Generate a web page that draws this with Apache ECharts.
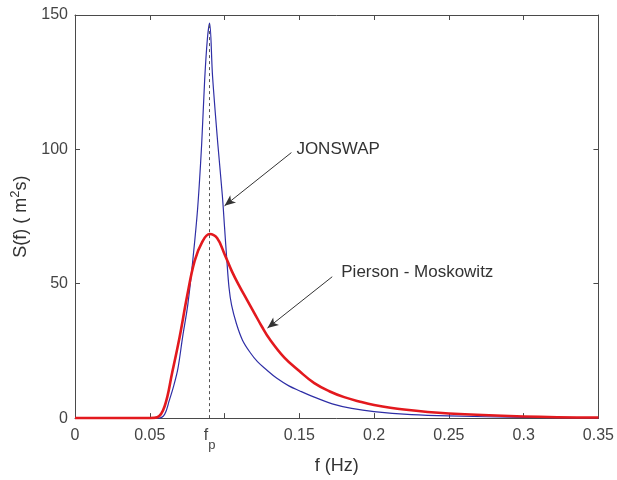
<!DOCTYPE html>
<html><head><meta charset="utf-8">
<script src="https://cdn.jsdelivr.net/npm/echarts@6/dist/echarts.min.js"></script>
<style>html,body{margin:0;padding:0;background:#fff}#c{width:617px;height:480px}</style>
</head><body><div id="c"></div>
<script>
// JONSWAP spectrum
const jonswapF = [0, 0.04, 0.05, 0.056, 0.06, 0.063, 0.066, 0.0688, 0.072, 0.0755, 0.079, 0.082, 0.0847, 0.0867, 0.0885, 0.09, 0.092, 0.0955, 0.0985, 0.1, 0.1015, 0.103, 0.1047, 0.108, 0.112, 0.117, 0.122, 0.128, 0.135, 0.143, 0.15, 0.16, 0.172, 0.185, 0.2, 0.225, 0.25, 0.3, 0.35];
const jonswapS = [0, 0, 0, 0, 1.5, 6.5, 12, 18.4, 30.3, 42.5, 60, 78, 102, 125.8, 141, 147, 127, 102, 83, 71, 59, 48.5, 42, 35, 29, 24.5, 21, 18, 14.8, 12, 10.2, 7.8, 5.3, 3.6, 2.4, 1.3, 0.8, 0.3, 0.1];
// Pierson - Moskowitz spectrum
const pmF = [0, 0.04, 0.05, 0.055, 0.06, 0.065, 0.07, 0.075, 0.08, 0.085, 0.09, 0.095, 0.1, 0.105, 0.11, 0.115, 0.12, 0.125, 0.13, 0.14, 0.15, 0.16, 0.17, 0.18, 0.19, 0.2, 0.22, 0.25, 0.3, 0.35];
const pmS = [0, 0, 0, 0.3, 4.5, 17, 30.3, 45.5, 58.5, 65.5, 68.5, 67, 61, 54.5, 49, 44, 39, 34, 29.5, 22.5, 17.5, 13, 10, 7.8, 6.2, 4.9, 3.2, 1.7, 0.6, 0.2];
// axis ticks and labels
const xTicks = [0, 0.05, 0.1, 0.15, 0.2, 0.25, 0.3, 0.35];
const xLabelValues = [0, 0.05, 0.09, 0.15, 0.2, 0.25, 0.3, 0.35];
const peakF = 0.09;
const peakS = 147;
const seriesNames = ['JONSWAP', 'Pierson - Moskowitz'];

const pair = (xs, ys) => xs.map((x, i) => [x, ys[i]]);
const chart = echarts.init(document.getElementById('c'), null, {renderer: 'canvas'});
const font = 'Liberation Sans, Arial, sans-serif';
const axisCol = '#4a4a4a';
const labelCol = '#444';
const baseX = {
  type: 'value', min: 0, max: 0.35, interval: 0.05,
  axisLine: {show: true, onZero: false, lineStyle: {color: axisCol, width: 1}},
  axisTick: {show: true, inside: true, length: 5, customValues: xTicks, lineStyle: {color: axisCol}},
  splitLine: {show: false}
};
const baseY = {
  type: 'value', min: 0, max: 150, interval: 50,
  axisLine: {show: true, onZero: false, lineStyle: {color: axisCol, width: 1}},
  axisTick: {show: true, inside: true, length: 5, lineStyle: {color: axisCol}},
  splitLine: {show: false}
};
chart.setOption({
  animation: false,
  backgroundColor: '#fff',
  grid: {left: 75, right: 17, top: 15, bottom: 49, containLabel: false},
  xAxis: [
    Object.assign({}, baseX, {
      position: 'bottom',
      name: 'f (Hz)', nameLocation: 'middle', nameGap: 33,
      nameTextStyle: {fontFamily: font, fontSize: 18, color: '#333'},
      axisLabel: {
        show: true, margin: 9, customValues: xLabelValues,
        fontFamily: font, fontSize: 16, color: labelCol,
        formatter: v => Math.abs(v - peakF) < 1e-9 ? '{f|f}{p|p}' : String(v),
        rich: {
          f: {fontFamily: font, fontSize: 16, color: labelCol, verticalAlign: 'top'},
          p: {fontFamily: font, fontSize: 13, color: labelCol, verticalAlign: 'bottom', padding: [12, 0, 0, 0]}
        }
      }
    }),
    Object.assign({}, baseX, {position: 'top', axisLabel: {show: false}})
  ],
  yAxis: [
    Object.assign({}, baseY, {
      position: 'left',
      name: '{t|S(f) ( m}{s|2}{t|s)}', nameLocation: 'middle', nameGap: 31,
      nameTextStyle: {
        fontFamily: font, fontSize: 18, color: '#333',
        rich: {
          t: {fontFamily: font, fontSize: 18, color: '#333', verticalAlign: 'bottom'},
          s: {fontFamily: font, fontSize: 13, color: '#333', verticalAlign: 'top', padding: [0, 0, 8, 0]}
        }
      },
      axisLabel: {show: true, margin: 7, fontFamily: font, fontSize: 16, color: labelCol}
    }),
    Object.assign({}, baseY, {position: 'right', axisLabel: {show: false}})
  ],
  series: [
    {
      name: seriesNames[0], type: 'line', data: pair(jonswapF, jonswapS),
      showSymbol: false, symbol: 'none', smooth: 0.35,
      lineStyle: {color: '#2e2ea6', width: 1.2},
      z: 2,
      markLine: {
        silent: true, animation: false,
        label: {show: false},
        data: [
          [{coord: [peakF, 0], symbol: 'none', lineStyle: {type: [3, 3], color: '#555', width: 1}},
           {coord: [peakF, peakS], symbol: 'none'}],
          [{coord: [0.1447, 98.8], symbol: 'none', lineStyle: {type: 'solid', color: '#333', width: 1}},
           {coord: [0.1, 79], symbol: 'arrow', symbolSize: [7, 11]}],
          [{coord: [0.172, 52.6], symbol: 'none', lineStyle: {type: 'solid', color: '#333', width: 1}},
           {coord: [0.1287, 33.5], symbol: 'arrow', symbolSize: [7, 11]}]
        ]
      },
      markPoint: {
        silent: true, animation: false,
        symbol: 'circle', symbolSize: 0,
        label: {show: true, position: 'right', distance: 5, fontFamily: font, fontSize: 17, color: '#333'},
        data: [
          {coord: [0.1447, 100.2], label: {formatter: seriesNames[0]}},
          {coord: [0.1747, 54.4], label: {formatter: seriesNames[1]}}
        ]
      }
    },
    {
      name: seriesNames[1], type: 'line', data: pair(pmF, pmS),
      showSymbol: false, symbol: 'none', smooth: 0.4,
      lineStyle: {color: '#e3191e', width: 2.6},
      z: 3
    }
  ]
});
</script></body></html>
